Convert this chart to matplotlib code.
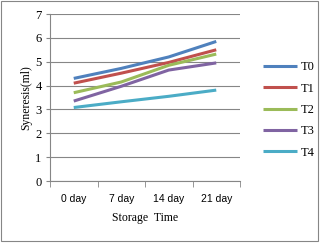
import matplotlib
matplotlib.use("Agg")
import matplotlib.pyplot as plt
from matplotlib.patches import Rectangle
import numpy as np

categories = ["0 day", "7 day", "14 day", "21 day"]
series_names = ["T0", "T1", "T2", "T3", "T4"]
T0 = [4.30, 4.72, 5.20, 5.85]
T1 = [4.10, 4.52, 4.97, 5.50]
T2 = [3.70, 4.15, 4.85, 5.32]
T3 = [3.35, 3.97, 4.65, 4.95]
T4 = [3.08, 3.32, 3.55, 3.81]
values = [T0, T1, T2, T3, T4]
colors = ["#4F81BD", "#C0504D", "#9BBB59", "#8064A2", "#4BACC6"]

fig = plt.figure(figsize=(3.2, 2.44), dpi=100)
ax = fig.add_axes([50/320, 1-181/244, 190/320, 167/244])

x = np.arange(len(categories))
for name, v, c in zip(series_names, values, colors):
    ax.plot(x, v, color=c, lw=2.2, label=name, solid_capstyle="butt")

ax.set_xlim(-0.5, len(categories)-0.5)
ax.set_ylim(0, 7)
ax.set_yticks(range(0, 8))
ax.yaxis.grid(True, color="#868686", lw=0.8)
ax.set_axisbelow(True)
ax.set_xticks(x)
ax.set_xticklabels(categories, family="Liberation Sans", fontsize=7.5)
ax.set_xticks(np.arange(-0.5, len(categories)), minor=True)
ax.tick_params(axis="x", which="major", length=0, pad=9)
ax.tick_params(axis="x", which="minor", length=4, color="#868686", direction="out")
ax.tick_params(axis="y", length=3, color="#868686", direction="out", pad=3)
for lbl in ax.get_yticklabels():
    lbl.set_family("Liberation Serif")
    lbl.set_fontsize(9)
for s in ["top", "right"]:
    ax.spines[s].set_visible(False)
for s in ["left", "bottom"]:
    ax.spines[s].set_color("#868686")
    ax.spines[s].set_linewidth(0.8)

ax.set_xlabel("Storage  Time", family="Liberation Serif", fontsize=8.5, labelpad=6)
ax.set_ylabel("Syneresis(ml)", family="Liberation Serif", fontsize=8.5, labelpad=2)

leg = fig.legend(loc="upper left", bbox_to_anchor=(252/320, 1-50/244), frameon=False,
                 prop={"family": "Liberation Serif", "size": 9},
                 handlelength=2.7, handletextpad=0.3, labelspacing=0.75)
for t in leg.get_texts():
    t.set_family("Liberation Serif")

fig.patches.append(Rectangle((1/320, 3/244), 317/320, 240/244, transform=fig.transFigure,
                             fill=False, edgecolor="#868686", lw=0.8))

fig.savefig("out.png", dpi=100)
